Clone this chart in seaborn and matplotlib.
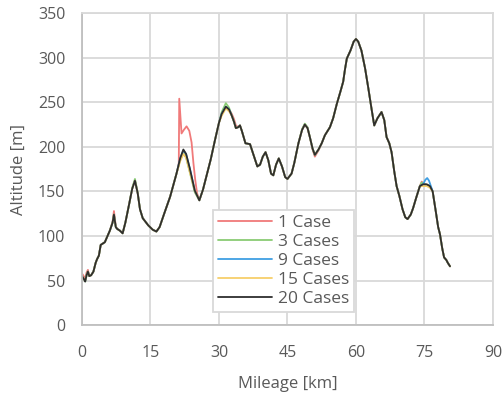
import matplotlib
matplotlib.use("Agg")
import matplotlib.pyplot as plt
import numpy as np
import pandas as pd
import seaborn as sns

# Reference elevation profile (20 Cases)
mileage_km = [
    0.0, 0.5, 0.7, 1.0, 1.3, 1.6, 2.0, 2.5, 3.0, 3.3, 3.7, 4.1, 5.0, 6.1, 6.7, 7.0,
    7.4, 7.7, 8.3, 8.9, 9.5, 10.3, 11.0, 11.6, 12.2, 12.7, 13.3, 14.5, 15.5, 16.3,
    17.0, 18.0, 19.3, 20.7, 21.5, 22.2, 22.8, 23.6, 24.7, 25.7, 26.5, 27.3, 28.2,
    29.1, 30.0, 30.6, 31.5, 32.2, 32.8, 33.3, 33.7, 34.2, 34.6, 35.0, 35.8, 36.8,
    37.5, 38.4, 39.0, 39.6, 40.2, 40.8, 41.4, 41.9, 42.5, 43.1, 43.8, 44.5, 45.0,
    45.9, 46.5, 47.4, 48.2, 48.8, 49.4, 49.9, 50.5, 51.0, 51.8, 52.5, 53.2, 54.3,
    55.0, 55.8, 56.6, 57.2, 57.6, 58.0, 58.8, 59.5, 60.0, 60.5, 61.2, 62.0, 62.7,
    63.4, 64.0, 64.7, 65.6, 66.2, 66.7, 67.3, 67.8, 68.4, 68.9, 69.5, 70.2, 70.8,
    71.3, 72.0, 72.5, 73.2, 74.0, 74.7, 75.5, 76.2, 76.8, 77.5, 78.0, 78.4, 78.9,
    79.3, 79.8, 80.1, 80.6,
]
altitude_20 = [
    55, 51, 49, 56, 60, 55, 56, 60, 70, 74, 78, 90, 93, 106, 115, 124,
    110, 108, 106, 103, 115, 135, 153, 162, 148, 130, 120, 112, 107, 105,
    110, 125, 144, 170, 187, 197, 192, 176, 151, 140, 152, 168, 186,
    207, 227, 237, 245, 242, 235, 228, 221, 222, 224, 218, 204, 203,
    192, 178, 180, 189, 194, 185, 170, 168, 180, 187, 178, 166, 164,
    170, 182, 204, 219, 225, 221, 211, 198, 191, 197, 204, 213, 222,
    232, 248, 262, 273, 287, 299, 308, 318, 321, 318, 308, 288, 266,
    243, 224, 232, 239, 230, 211, 204, 194, 172, 156, 145, 130, 121,
    119, 124, 131, 143, 156, 158, 158, 156, 150, 127, 110, 102, 86,
    76, 73, 70, 66,
]

# Stretches where the other runs depart from the 20-case profile: (mileage, altitude)
segments_1 = [
    ([0.0, 0.5, 0.7, 1.0, 1.3], [58, 54, 52, 59, 62]),
    ([6.7, 7.0, 7.4], [116, 128, 111]),
    ([20.7, 21.1, 21.2, 21.3, 21.8, 22.3, 22.9, 23.5, 24.0, 24.4, 24.8, 25.2, 25.7],
     [170, 178, 182, 254, 215, 219, 223, 218, 205, 182, 163, 148, 140]),
    ([32.8, 33.3, 33.7], [237, 231, 224]),
    ([50.5, 51.0, 51.8], [197, 189, 196]),
    ([73.2, 74.0, 74.4, 74.7, 75.5], [143, 156, 161, 159, 157]),
]
segments_3 = [
    ([11.0, 11.6, 12.2], [154, 164, 149]),
    ([21.5, 22.2, 22.8, 23.6, 24.7], [185, 193, 188, 172, 149]),
    ([30.6, 31.5, 32.2], [239, 249, 244]),
    ([48.2, 48.8, 49.4], [220, 226, 222]),
    ([74.0, 74.4, 74.7, 75.5], [156, 160, 159, 157]),
]
segments_9 = [
    ([22.2], [196]),
    ([74.7, 75.2, 75.6, 76.0, 76.4, 76.8], [158, 163, 165, 162, 156, 150]),
]
segments_15 = [
    ([21.5, 22.2, 22.8, 23.6], [184, 192, 188, 172]),
    ([30.6, 31.5, 32.2], [235, 243, 240]),
    ([74.7, 75.5, 76.2], [156, 156, 154]),
]

case_names = ["1 Case", "3 Cases", "9 Cases", "15 Cases", "20 Cases"]
case_segments = [segments_1, segments_3, segments_9, segments_15, []]
case_colors = ["#f07a7a", "#8acc74", "#3f9fe3", "#f7cf6a", "#2e2e2e"]


def build_profile(segments):
    km = np.array(mileage_km, dtype=float)
    alt = np.array(altitude_20, dtype=float)
    keep = np.ones(len(km), dtype=bool)
    extra_km, extra_alt = [], []
    for seg_km, seg_alt in segments:
        keep &= ~((km >= min(seg_km) - 1e-9) & (km <= max(seg_km) + 1e-9))
        extra_km += seg_km
        extra_alt += seg_alt
    all_km = np.concatenate([km[keep], extra_km])
    all_alt = np.concatenate([alt[keep], extra_alt])
    order = np.argsort(all_km, kind="stable")
    return all_km[order], all_alt[order]


frames = []
for name, segs in zip(case_names, case_segments):
    k, a = build_profile(segs)
    frames.append(pd.DataFrame({"Mileage": k, "Altitude": a, "Case": name}))
df = pd.concat(frames, ignore_index=True)

sns.set_theme(style="white")
plt.rcParams["font.family"] = ["Open Sans", "DejaVu Sans"]

text_color = "#595959"
grid_color = "#d9d9d9"

fig = plt.figure(figsize=(5.03, 3.97), dpi=100)
ax = fig.add_axes([0.163, 0.181, 0.817, 0.786])

sns.lineplot(
    data=df, x="Mileage", y="Altitude", hue="Case", hue_order=case_names,
    palette=case_colors, sort=False, estimator=None, linewidth=1.3, ax=ax,
)
for line in ax.get_lines():
    line.set_solid_joinstyle("round")

ax.set_xlim(0, 90)
ax.set_ylim(0, 350)
ax.set_xticks(np.arange(0, 91, 15))
ax.set_yticks(np.arange(0, 351, 50))
ax.grid(True, color=grid_color, linewidth=1.3)
ax.set_axisbelow(True)
for s in ax.spines.values():
    s.set_color(grid_color)
    s.set_linewidth(1.3)
ax.spines["left"].set_color("#bfbfbf")
ax.spines["bottom"].set_color("#bfbfbf")
ax.tick_params(axis="both", length=0, labelsize=11.5, labelcolor=text_color)
ax.tick_params(axis="x", pad=14)
ax.tick_params(axis="y", pad=12)
ax.set_xlabel("Mileage [km]", fontsize=12, color=text_color, labelpad=11)
ax.set_ylabel("Altitude [m]", fontsize=12, color=text_color, labelpad=8)

leg = ax.legend(
    loc="lower left", bbox_to_anchor=(0.319, 0.042), borderaxespad=0,
    prop={"size": 12.5}, frameon=True, fancybox=False, edgecolor=grid_color,
    framealpha=1, handlelength=3.1, handletextpad=0.35, labelspacing=0.17,
    borderpad=0.28,
)
leg.get_frame().set_linewidth(1.3)
for t in leg.get_texts():
    t.set_color(text_color)
for h in leg.get_lines():
    h.set_linewidth(1.3)

fig.savefig("out.png", dpi=100)
